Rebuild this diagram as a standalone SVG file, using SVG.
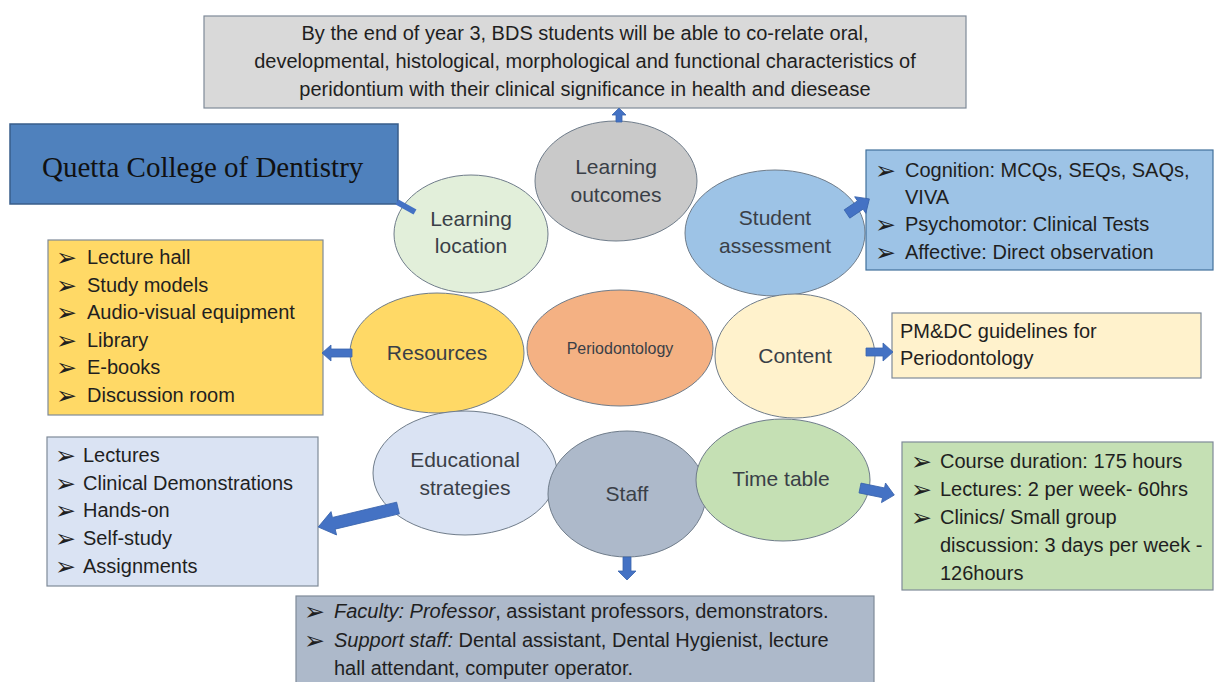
<svg xmlns="http://www.w3.org/2000/svg" width="1215" height="682" viewBox="0 0 1215 682">
<style>
.bx{stroke:#7f8a98;stroke-width:1.2}
.el{stroke:#6f7c8a;stroke-width:1}
.t{font-family:"Liberation Sans",Arial,sans-serif;font-size:20px;fill:#1f1f1f}
.lb{font-family:"Liberation Sans",Arial,sans-serif;font-size:21px;fill:#3a3f47;text-anchor:middle}
.bu{font-family:"DejaVu Sans",sans-serif;font-size:25px;fill:#1f1f1f}
.ar{fill:#4472c4;stroke:#3a64ad;stroke-width:0.8}
</style>
<rect width="1215" height="682" fill="#ffffff"/>

<g id="outcome-box">
<rect class="bx" x="204" y="16" width="762" height="92" fill="#d9d9d9"/>
<text class="t" x="585" y="40" text-anchor="middle">By the end of year 3, BDS students will be able to co-relate oral,</text>
<text class="t" x="585" y="68" text-anchor="middle">developmental, histological, morphological and functional characteristics of</text>
<text class="t" x="585" y="96" text-anchor="middle">peridontium with their clinical significance in health and diesease</text>
</g>

<g id="quetta">
<rect x="10" y="124" width="388" height="80" fill="#4f81bd" stroke="#385d8a" stroke-width="1.5"/>
<text x="42" y="177" font-family="'Liberation Serif','Times New Roman',serif" font-size="29" fill="#111">Quetta College of Dentistry</text>
</g>

<g id="learning-location">
<ellipse class="el" cx="471" cy="234" rx="77" ry="59" fill="#e2efda"/>
<text class="lb" x="471" y="226">Learning</text>
<text class="lb" x="471" y="253">location</text>
</g>

<g id="learning-outcomes">
<ellipse class="el" cx="616" cy="181" rx="81" ry="60" fill="#c9c9c9"/>
<text class="lb" x="616" y="174">Learning</text>
<text class="lb" x="616" y="202">outcomes</text>
</g>

<g id="student-assessment">
<ellipse class="el" cx="775" cy="233" rx="90" ry="63" fill="#9dc3e6"/>
<text class="lb" x="775" y="225">Student</text>
<text class="lb" x="775" y="253">assessment</text>
</g>

<g id="assessment-box">
<rect x="866" y="150" width="347" height="120" fill="#9dc3e6" stroke="#41719c" stroke-width="1.2"/>
<text class="bu" x="875" y="179">➢</text><text class="t" x="905" y="177">Cognition: MCQs, SEQs, SAQs,</text>
<text class="t" x="905" y="204">VIVA</text>
<text class="bu" x="875" y="233">➢</text><text class="t" x="905" y="231">Psychomotor: Clinical Tests</text>
<text class="bu" x="875" y="261">➢</text><text class="t" x="905" y="259">Affective: Direct observation</text>
</g>

<g id="resources-box">
<rect class="bx" x="48" y="240" width="275" height="175" fill="#ffd966"/>
<text class="bu" x="56" y="266">➢</text><text class="t" x="87" y="264">Lecture hall</text>
<text class="bu" x="56" y="294">➢</text><text class="t" x="87" y="292">Study models</text>
<text class="bu" x="56" y="321">➢</text><text class="t" x="87" y="319">Audio-visual equipment</text>
<text class="bu" x="56" y="349">➢</text><text class="t" x="87" y="347">Library</text>
<text class="bu" x="56" y="376">➢</text><text class="t" x="87" y="374">E-books</text>
<text class="bu" x="56" y="404">➢</text><text class="t" x="87" y="402">Discussion room</text>
</g>

<g id="resources">
<ellipse class="el" cx="437" cy="353" rx="87" ry="60" fill="#ffd966"/>
<text class="lb" x="437" y="360">Resources</text>
</g>

<g id="periodontology">
<ellipse class="el" cx="620" cy="348" rx="93" ry="58" fill="#f4b183"/>
<text class="lb" x="620" y="354" style="font-size:16px">Periodontology</text>
</g>

<g id="content">
<ellipse class="el" cx="795" cy="356" rx="80" ry="62" fill="#fff2cc"/>
<text class="lb" x="795" y="363">Content</text>
</g>

<g id="content-box">
<rect class="bx" x="892" y="313" width="309" height="65" fill="#fff2cc"/>
<text class="t" x="900" y="338">PM&amp;DC guidelines for</text>
<text class="t" x="900" y="365">Periodontology</text>
</g>

<g id="educational-strategies">
<ellipse class="el" cx="465" cy="473" rx="92" ry="62" fill="#dae3f3"/>
<text class="lb" x="465" y="467">Educational</text>
<text class="lb" x="465" y="495">strategies</text>
</g>

<g id="staff">
<ellipse class="el" cx="627" cy="494" rx="79" ry="63" fill="#adb9ca"/>
<text class="lb" x="627" y="501">Staff</text>
</g>

<g id="time-table">
<ellipse class="el" cx="783" cy="480" rx="87" ry="61" fill="#c5e0b4"/>
<text class="lb" x="781" y="486">Time table</text>
</g>

<g id="strategies-box">
<rect class="bx" x="47" y="437" width="271" height="149" fill="#dae3f3"/>
<text class="bu" x="55" y="464">➢</text><text class="t" x="83" y="462">Lectures</text>
<text class="bu" x="55" y="492">➢</text><text class="t" x="83" y="490">Clinical Demonstrations</text>
<text class="bu" x="55" y="519">➢</text><text class="t" x="83" y="517">Hands-on</text>
<text class="bu" x="55" y="547">➢</text><text class="t" x="83" y="545">Self-study</text>
<text class="bu" x="55" y="575">➢</text><text class="t" x="83" y="573">Assignments</text>
</g>

<g id="timetable-box">
<rect class="bx" x="902" y="442" width="311" height="148" fill="#c5e0b4"/>
<text class="bu" x="911" y="470">➢</text><text class="t" x="940" y="468">Course duration: 175 hours</text>
<text class="bu" x="911" y="498">➢</text><text class="t" x="940" y="496">Lectures: 2 per week- 60hrs</text>
<text class="bu" x="911" y="526">➢</text><text class="t" x="940" y="524">Clinics/ Small group</text>
<text class="t" x="940" y="552">discussion: 3 days per week -</text>
<text class="t" x="940" y="580">126hours</text>
</g>

<g id="staff-box">
<rect class="bx" x="296" y="596" width="578" height="90" fill="#adb9ca"/>
<text class="bu" x="304" y="620">➢</text><text class="t" x="334" y="618"><tspan font-style="italic">Faculty: Professor</tspan>, assistant professors, demonstrators.</text>
<text class="bu" x="304" y="649">➢</text><text class="t" x="334" y="647"><tspan font-style="italic">Support staff:</tspan>  Dental assistant, Dental Hygienist, lecture</text>
<text class="t" x="334" y="675">hall attendant, computer operator.</text>
</g>

<g id="connectors">
<line x1="415" y1="212" x2="397" y2="202" stroke="#4472c4" stroke-width="6"/>
<polygon class="ar" points="616,122 622,122 622,115 626,115 619,108 612,115 616,115"/>
<polygon class="ar" points="623,557 631,557 631,571 636,571 627,580 618,571 623,571"/>
<polygon class="ar" points="352,349 331,349 331,345 322,353 331,361 331,357 352,357"/>
<polygon class="ar" points="866,348 883,348 883,343 893,352 883,361 883,356 866,356"/>
<polygon class="ar" transform="translate(860,488) rotate(11.6)" points="0,-5 24,-5 24,-10 35,0 24,10 24,5 0,5"/>
<polygon class="ar" transform="translate(398,508) rotate(166.6)" points="0,-6 66,-6 66,-12 82,0 66,12 66,6 0,6"/>
<polygon class="ar" transform="translate(847,214) rotate(-34)" points="0,-5 16,-5 16,-10 27,0 16,10 16,5 0,5"/>
</g>
</svg>
